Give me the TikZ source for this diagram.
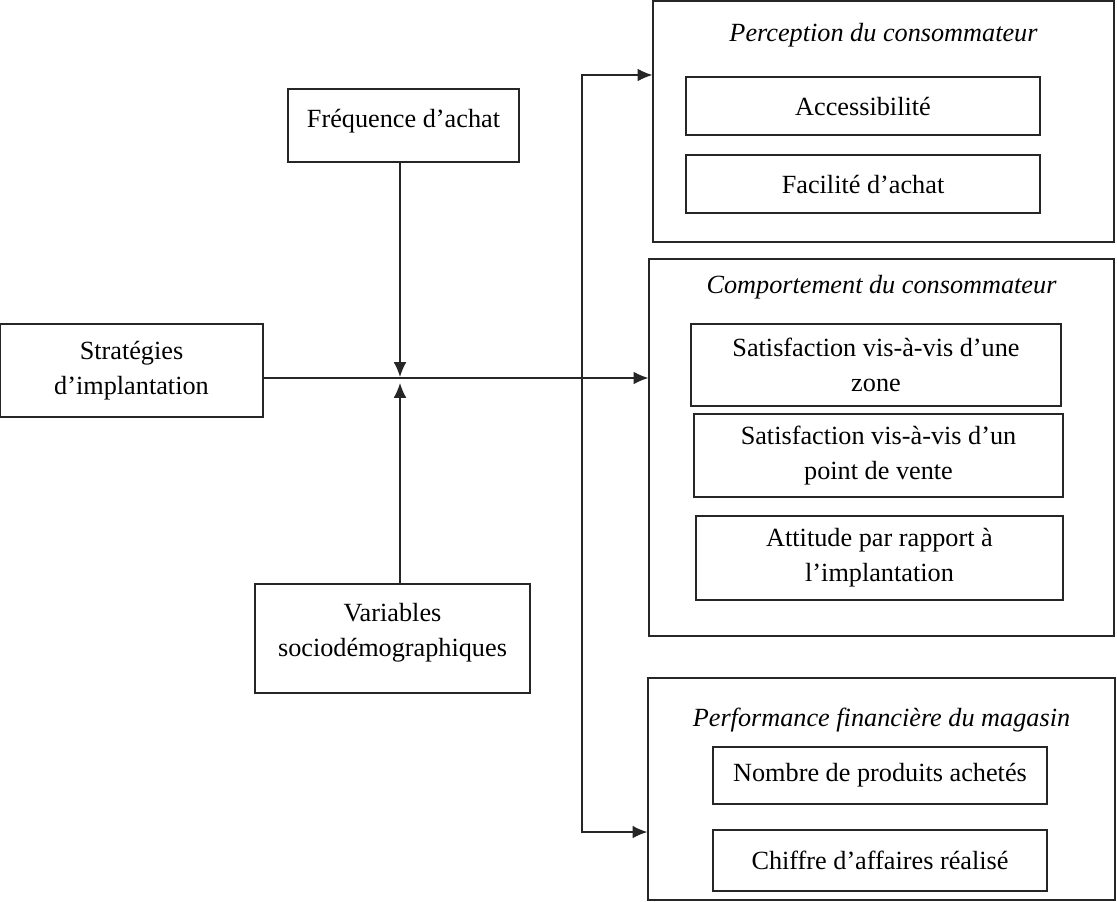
\documentclass[tikz,border=0pt]{standalone}
\usepackage{fontspec}
\setmainfont{Liberation Serif}
\usetikzlibrary{arrows.meta}
\usetikzlibrary{positioning}

\begin{document}
\begin{tikzpicture}
	[x=0.7087pt, y=-0.7087pt,
	> = {Latex[length=10.5pt,width=9pt]},
	every node/.style={font=\fontsize{18.6}{24.8}\selectfont},
	box/.style = {draw=black!85, line width=0.9pt, inner sep=0pt, align=center},
	title/.style = {font=\fontsize{18.6}{24.8}\selectfont\itshape},
	link/.style = {draw=black!85, line width=0.9pt}
	]
	\useasboundingbox (0,0) rectangle (1117,901);

	% left side
	\node[box, minimum width=186.4pt, minimum height=65.9pt] (strat) at (131.5,370.5) {Stratégies\\d’implantation};
	\node[box, minimum width=163.7pt, minimum height=51.7pt] (freq) at (403.5,125.5) {Fréquence d’achat\\[-14pt]\mbox{}};
	\node[box, minimum width=194.9pt, minimum height=77.2pt] (var) at (392.5,638.5) {Variables\\sociodémographiques\\[-13pt]\mbox{}};

	% right side
	\node[box, minimum width=326.7pt, minimum height=170.8pt] (perc) at (883.5,121.5) {};
	\node[title] (ttlperc) at (883.5,35) {Perception du consommateur};
	\node[box, minimum width=250.9pt, minimum height=41.1pt] (acc) at (863,106) {Accessibilité};
	\node[box, minimum width=250.9pt, minimum height=41.1pt] (fac) at (863,184) {Facilité d’achat};

	\node[box, minimum width=329.5pt, minimum height=267.2pt] (comp) at (881.5,447.5) {};
	\node[title] (ttlcomp) at (881.5,287) {Comportement du consommateur};
	\node[box, minimum width=262.2pt, minimum height=58.1pt] (zone) at (876,365) {Satisfaction vis-à-vis d’une\\zone};
	\node[box, minimum width=261.5pt, minimum height=58.8pt] (pdv) at (878.5,455.5) {Satisfaction vis-à-vis d’un\\point de vente};
	\node[box, minimum width=260.1pt, minimum height=59.5pt] (att) at (879.5,558) {Attitude par rapport à\\l’implantation};

	\node[box, minimum width=331.0pt, minimum height=157.3pt] (perf) at (881.5,789) {};
	\node[title] (ttlperf) at (881.5,720) {Performance financière du magasin};
	\node[box, minimum width=236.7pt, minimum height=40.4pt] (nbr) at (880,775.5) {Nombre de produits achetés};
	\node[box, minimum width=236.7pt, minimum height=43.2pt] (chf) at (880,860.5) {Chiffre d’affaires réalisé};

	% connectors
	\coordinate (jn) at (400,377);
	\coordinate (js) at (400,383);
	\coordinate (mid) at (582,378);
	\coordinate (bt) at (582,75);
	\coordinate (bb) at (582,832);

	\draw[link, ->] (freq.south -| jn) -- (jn);
	\draw[link, ->] (var.north -| js) -- (js);
	\draw[link, ->] (mid -| strat.east) -- (mid -| comp.west);
	\draw[link, <->] (bt -| perc.west) -- (bt) -- (bb) -- (bb -| perf.west);
\end{tikzpicture}
\end{document}
